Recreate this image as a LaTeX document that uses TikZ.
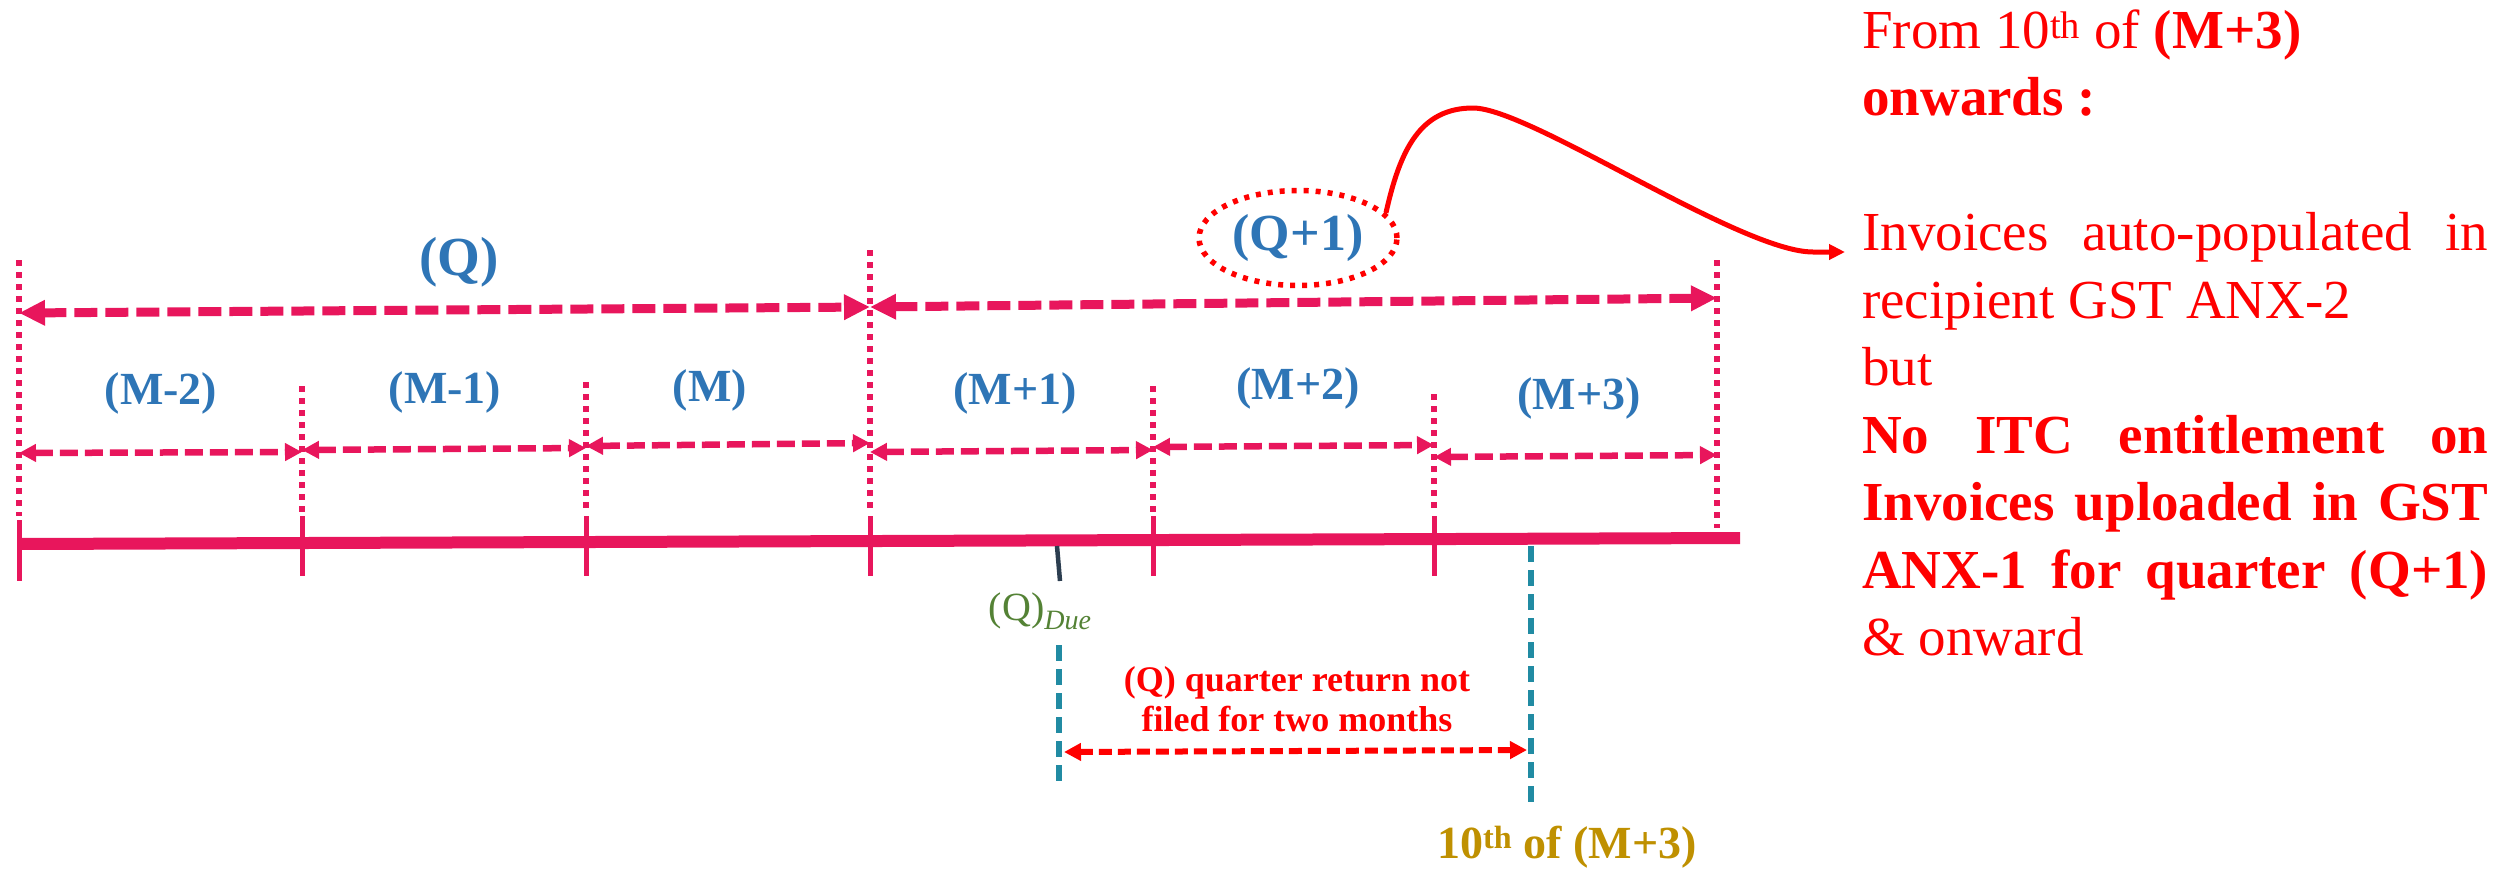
\documentclass[tikz,border=0pt]{standalone}
\usepackage{fontspec}
\setmainfont{Liberation Serif}
\usetikzlibrary{arrows.meta,shapes.geometric}
\definecolor{crim}{RGB}{232,22,92}
\definecolor{lblue}{RGB}{46,117,182}
\definecolor{qgreen}{RGB}{84,130,53}
\definecolor{goldc}{RGB}{191,144,0}
\definecolor{tealc}{RGB}{33,139,163}
\definecolor{slatec}{RGB}{44,62,80}
\begin{document}
\begin{tikzpicture}[x=1pt,y=-1pt,
  bigarr/.style={draw=crim, line width=9pt, dash pattern=on 23pt off 8pt, {Triangle[length=26pt,width=24pt]}-{Triangle[length=26pt,width=24pt]}},
  monarr/.style={draw=crim, line width=6.5pt, dash pattern=on 18pt off 7pt, {Triangle[length=17pt,width=17pt]}-{Triangle[length=17pt,width=17pt]}},
  dotv/.style={draw=crim, line width=5.5pt, dash pattern=on 6pt off 6pt},
  tickl/.style={draw=crim, line width=5pt},
  mlab/.style={text=lblue, font=\fontsize{46}{50}\selectfont\bfseries, inner sep=0},
  tealdash/.style={draw=tealc, line width=6pt, dash pattern=on 16pt off 8pt},
  rline/.style={inner sep=0, anchor=base west, text=red, font=\fontsize{55}{66}\selectfont},
]
\useasboundingbox (0,0) rectangle (2511,868);

% axis and ticks
\coordinate (t0) at (19,544);
\coordinate (ae) at (1740,538);
\draw[crim, line width=12pt] (t0) -- (ae);
\draw[tickl] (19,520) -- (19,581);
\foreach \x in {302,586,870,1153,1434} \draw[tickl] (\x,516) -- (\x,576);

% dotted verticals
\draw[dotv] (19,260) -- (19,516);
\draw[dotv] (302,386) -- (302,512);
\draw[dotv] (586,382) -- (586,512);
\draw[dotv] (870,250) -- (870,512);
\draw[dotv] (1153,386) -- (1153,512);
\draw[dotv] (1434,394) -- (1434,512);
\draw[dotv] (1717,260) -- (1717,528);

% quarter arrows
\coordinate (qL) at (19,313);
\coordinate (qM) at (870,307);
\coordinate (qR) at (1717,298);
\draw[bigarr] (qL) -- (qM);
\draw[bigarr] (qM) -- (qR);

% month arrows
\coordinate (a0) at (19,453);   \coordinate (b0) at (302,452);
\coordinate (a1) at (302,450);  \coordinate (b1) at (586,448);
\coordinate (a2) at (586,446);  \coordinate (b2) at (870,443);
\coordinate (a3) at (870,452);  \coordinate (b3) at (1153,450);
\coordinate (a4) at (1153,447); \coordinate (b4) at (1434,445);
\coordinate (a5) at (1434,457); \coordinate (b5) at (1717,455);
\foreach \i in {0,...,5} \draw[monarr] (a\i) -- (b\i);

% labels
\node[mlab, font=\fontsize{55}{58}\selectfont\bfseries] (qlab) at (459,262) {(Q)};
\node[mlab] (m0) at (161,393) {(M-2)};
\node[mlab] (m1) at (445,392) {(M-1)};
\node[mlab] (m2) at (710,390) {(M)};
\node[mlab] (m3) at (1015,393) {(M+1)};
\node[mlab] (m4) at (1298,388) {(M+2)};
\node[mlab] (m5) at (1579,398) {(M+3)};

\node[ellipse, draw=red, line width=5.5pt, dash pattern=on 5pt off 7pt,
  minimum width=198pt, minimum height=95pt, inner sep=0, text=lblue,
  font=\fontsize{52}{56}\selectfont\bfseries] (qone) at (1298,238) {(Q+1)};

% curve to right text
\coordinate (cend) at (1845,252);
\draw[red, line width=5pt, -{Triangle[length=16pt,width=15pt]}]
  (qone.16) .. controls (1400,150) and (1420,108) .. (1473,108)
  .. controls (1530,108) and (1740,252) .. (1813,252) -- (cend);

% due marker and teal lines
\coordinate (d1) at (1057,546); \coordinate (d2) at (1060,581);
\draw[slatec, line width=4.5pt] (d1) -- (d2);
\coordinate (tl1) at (1059,645); \coordinate (tl2) at (1059,781);
\coordinate (tr1) at (1531,546); \coordinate (tr2) at (1531,805);
\draw[tealdash] (tl1) -- (tl2);
\draw[tealdash] (tr1) -- (tr2);
\coordinate (ra) at (1064,752); \coordinate (rb) at (1527,750);
\draw[red, line width=6pt, dash pattern=on 13pt off 6pt, {Triangle[length=17pt,width=17pt]}-{Triangle[length=17pt,width=17pt]}] (ra) -- (rb);

\node[text=qgreen, inner sep=0, anchor=base, font=\fontsize{40}{44}\selectfont] (qdue) at (1040,620) {(Q)\raisebox{-9pt}{\fontsize{28}{30}\selectfont\itshape Due}};
\node[text=red, font=\fontsize{36}{40}\selectfont\bfseries, align=center, inner sep=0] (qret) at (1297,699) {(Q) quarter return not\\filed for two months};
\node[text=goldc, inner sep=0, anchor=base, font=\fontsize{46}{50}\selectfont\bfseries] (tenth) at (1567,858) {10\textsuperscript{th} of (M+3)};

% right text block
\node[rline] (r1) at (1862,48) {From 10\textsuperscript{th} of \textbf{(M+3)}};
\node[rline] (r2) at (1862,115.5) {\textbf{onwards :}};
\node[rline] (r3) at (1862,250.5) {\makebox[626pt][s]{Invoices auto-populated in}};
\node[rline] (r4) at (1862,318) {recipient GST ANX-2};
\node[rline] (r5) at (1862,385.5) {but};
\node[rline] (r6) at (1862,453) {\makebox[626pt][s]{\bfseries No ITC entitlement on}};
\node[rline] (r7) at (1862,520.5) {\makebox[626pt][s]{\bfseries Invoices uploaded in GST}};
\node[rline] (r8) at (1862,588) {\makebox[626pt][s]{\bfseries ANX-1 for quarter (Q+1)}};
\node[rline] (r9) at (1862,655.5) {\& onward};
\end{tikzpicture}
\end{document}
